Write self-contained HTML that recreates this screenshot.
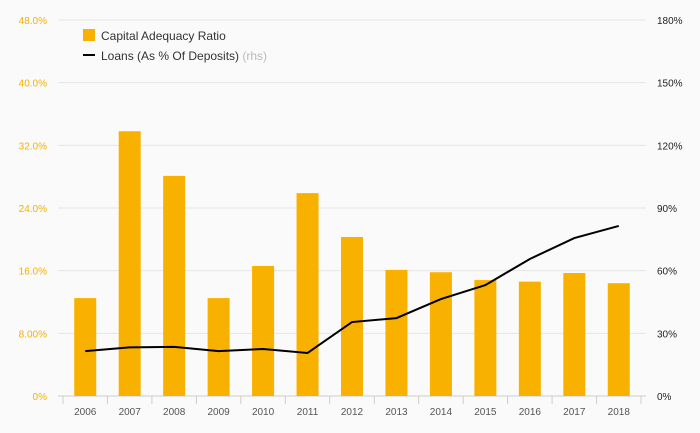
<!DOCTYPE html>
<html><head><meta charset="utf-8"><style>
body{margin:0;background:#fafafa;}
svg{display:block;font-family:"Liberation Sans",sans-serif;}
</style></head><body>
<svg id="chart" width="700" height="433">
<rect width="700" height="433" fill="#fafafa"/>
<g id="grid"></g><g id="bars"></g><g id="line"></g><g id="axes"></g>
<g>
<rect x="83" y="29" width="12" height="12" fill="#f9b100"/>
<text x="101" y="40" font-size="12" fill="#333">Capital Adequacy Ratio</text>
<line x1="83" y1="55" x2="95" y2="55" stroke="#000" stroke-width="2"/>
<text x="101" y="60" font-size="12" fill="#333">Loans (As % Of Deposits) <tspan fill="#bbb">(rhs)</tspan></text>
</g>
</svg>
<script>
const categories=["2006","2007","2008","2009","2010","2011","2012","2013","2014","2015","2016","2017","2018"];
const carValues=[12.5,33.8,28.1,12.5,16.6,25.9,20.3,16.1,15.8,14.8,14.6,15.7,14.4];
const loanValues=[21.5,23.3,23.5,21.5,22.5,20.6,35.4,37.3,46.4,53.1,65.6,75.6,81.4];
const leftTicks=[0,8,16,24,32,40,48];
const leftTickLabels=["0%","8.00%","16.0%","24.0%","32.0%","40.0%","48.0%"];
const rightTicks=[0,30,60,90,120,150,180];
const rightTickLabels=["0%","30%","60%","90%","120%","150%","180%"];
const NS="http://www.w3.org/2000/svg";
const X0=63,X1=641,Y0=396,Y1=20;
const step=(X1-X0)/categories.length;
const xc=i=>X0+step*(i+0.5);
const yL=v=>Y0-(v/48)*(Y0-Y1);
const yR=v=>Y0-(v/180)*(Y0-Y1);
function mk(t,a,p){const e=document.createElementNS(NS,t);for(const k in a)e.setAttribute(k,a[k]);p.appendChild(e);return e;}
const grid=document.getElementById('grid'),axes=document.getElementById('axes');
leftTicks.forEach((v,i)=>{
 const l=mk('line',{x1:X0-5,x2:X1+5,y1:yL(v),y2:yL(v),stroke:i==0?'#ccc':'#e6e6e6'},grid);
 
 
 const t=mk('text',{x:47,y:yL(v)+4,'text-anchor':'end','font-size':10,fill:'#f5b000'},axes);
 t.textContent=leftTickLabels[i];
 
 
});
rightTicks.forEach((v,i)=>{
 const t=mk('text',{x:657,y:yR(v)+4,'font-size':10,fill:'#222'},axes);
 t.textContent=rightTickLabels[i];
 
 
});
categories.forEach((c,i)=>{
 const tk=mk('line',{x1:X0+step*i,x2:X0+step*i,y1:Y0,y2:Y0+8,stroke:'#ccc'},axes);
 
 
 const t=mk('text',{x:xc(i),y:415,'text-anchor':'middle','font-size':10,fill:'#555'},axes);
 t.textContent=c;
 
 
 const b=mk('rect',{x:xc(i)-11,y:yL(carValues[i]),width:22,height:Y0-yL(carValues[i]),fill:'#f9b100'},document.getElementById('bars'));
 
 
});
const endTk=mk('line',{x1:X1,x2:X1,y1:Y0,y2:Y0+8,stroke:'#ccc'},axes);


const p=mk('polyline',{points:loanValues.map((v,i)=>xc(i)+','+yR(v)).join(' '),fill:'none',stroke:'#000','stroke-width':2},document.getElementById('line'));


</script>
</body></html>
